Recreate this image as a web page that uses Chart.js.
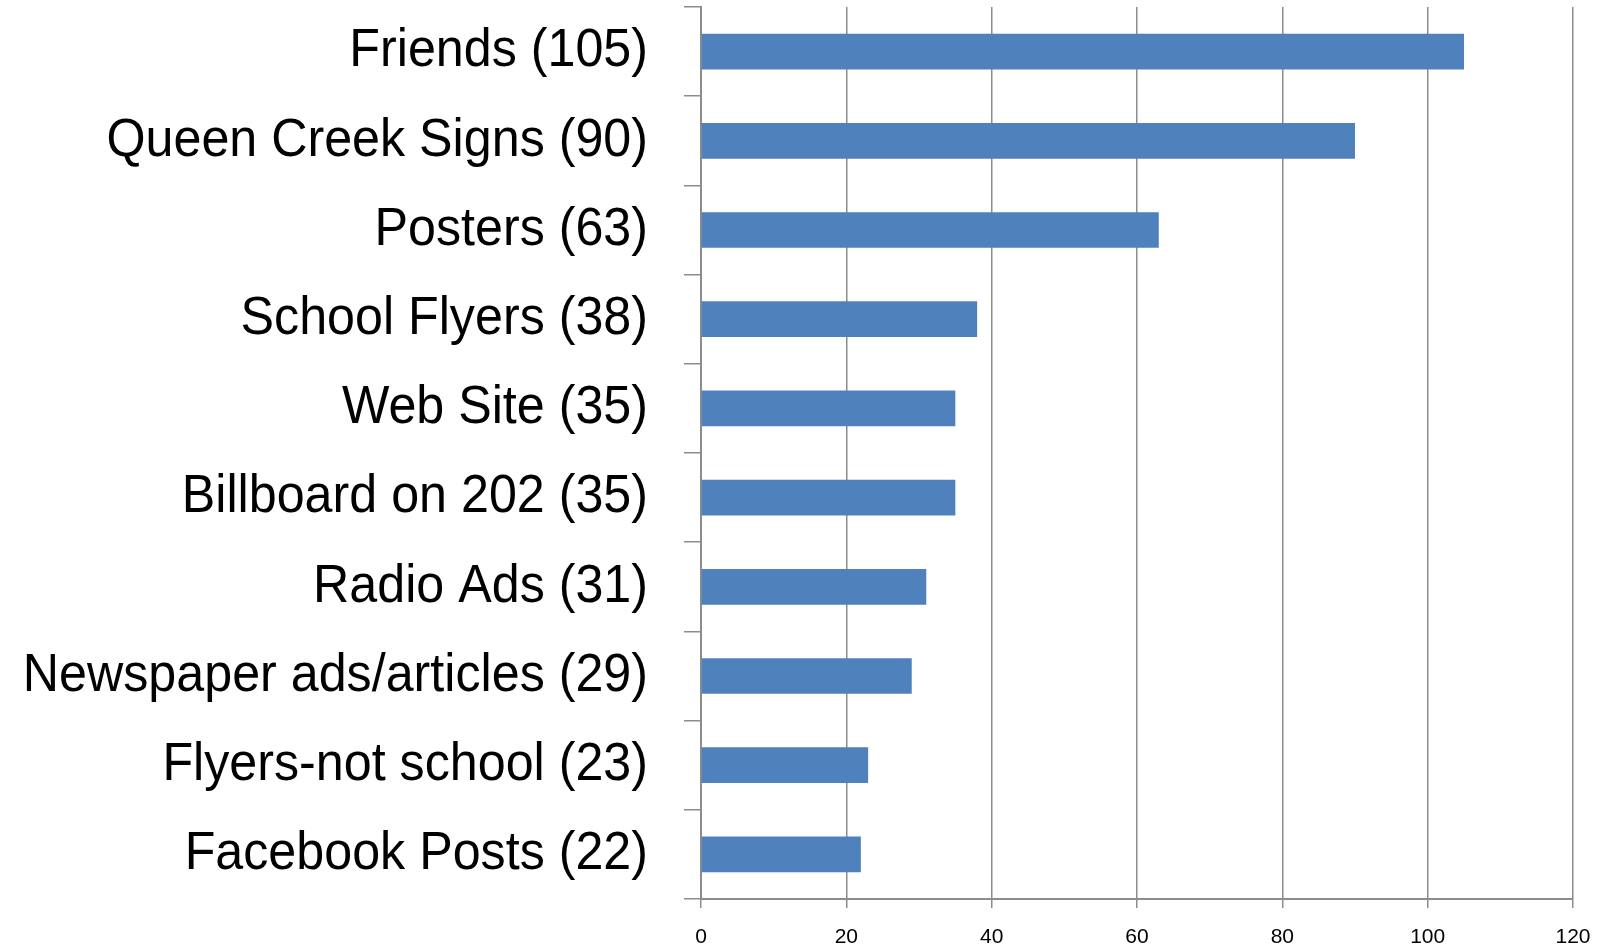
<!DOCTYPE html>
<html>
<head>
<meta charset="utf-8">
<script src="https://cdn.jsdelivr.net/npm/chart.js@4.4.1/dist/chart.umd.min.js"></script>
<style>
  html, body { margin: 0; padding: 0; background: #fff; }
  #wrap { width: 1600px; height: 948px; position: relative; }
</style>
</head>
<body>
<div id="wrap"><canvas id="chart"></canvas></div>
<script>
// data
const categories = [
    'Friends (105)',
    'Queen Creek Signs (90)',
    'Posters (63)',
    'School Flyers (38)',
    'Web Site (35)',
    'Billboard on 202 (35)',
    'Radio Ads (31)',
    'Newspaper ads/articles (29)',
    'Flyers-not school (23)',
    'Facebook Posts (22)'
];
const responses = [105, 90, 63, 38, 35, 35, 31, 29, 23, 22];
const xTicks = [0, 20, 40, 60, 80, 100, 120];

const FONT = "'Liberation Sans', Arial, sans-serif";
const GRID = '#8c8c8c';
const SQUEEZE = 0.93; // original uses a narrow font, squeeze the labels a bit

// category axis whose labels are drawn horizontally condensed (right edge kept)
class NarrowCategoryScale extends Chart.CategoryScale {
    _computeLabelArea() { return undefined; }
    drawLabels(area) {
        const ctx = this.ctx;
        const anchor = this.right - this.options.grid.tickLength - this.options.ticks.padding;
        ctx.save();
        ctx.translate(anchor, 0);
        ctx.scale(SQUEEZE, 1);
        ctx.translate(-anchor, 0);
        super.drawLabels(area);
        ctx.restore();
    }
}
NarrowCategoryScale.id = 'narrowCategory';
NarrowCategoryScale.defaults = Chart.CategoryScale.defaults;
Chart.register(NarrowCategoryScale);

new Chart(document.getElementById('chart'), {
    type: 'bar',
    data: {
        labels: categories,
        datasets: [{
            data: responses,
            backgroundColor: '#4F81BD',
            borderWidth: 0,
            barPercentage: 0.4,
            categoryPercentage: 1
        }]
    },
    options: {
        indexAxis: 'y',
        responsive: true,
        maintainAspectRatio: false,
        animation: false,
        layout: { autoPadding: false, padding: { top: 7, right: 27, bottom: 0, left: 0 } },
        plugins: {
            legend: { display: false },
            tooltip: { enabled: false }
        },
        scales: {
            x: {
                type: 'linear',
                min: xTicks[0],
                max: xTicks[xTicks.length - 1],
                afterBuildTicks: (axis) => { axis.ticks = xTicks.map(v => ({ value: v })); },
                afterFit: (axis) => { axis.height = 49; axis.paddingLeft = 0; axis.paddingRight = 0; },
                grid: { color: GRID, lineWidth: 1.5, tickLength: 9 },
                border: { color: GRID, width: 2 },
                ticks: { color: '#000', padding: 17, maxRotation: 0, font: { family: FONT, size: 21 } }
            },
            y: {
                type: 'narrowCategory',
                offset: true,
                afterFit: (axis) => { axis.width = 701; axis.paddingTop = 0; axis.paddingBottom = 0; },
                grid: { drawOnChartArea: false, color: GRID, lineWidth: 1.5, tickLength: 17, offset: true },
                border: { color: GRID, width: 2 },
                ticks: { color: '#000', padding: 36, autoSkip: false, font: { family: FONT, size: 54 } }
            }
        }
    }
});
</script>
</body>
</html>
